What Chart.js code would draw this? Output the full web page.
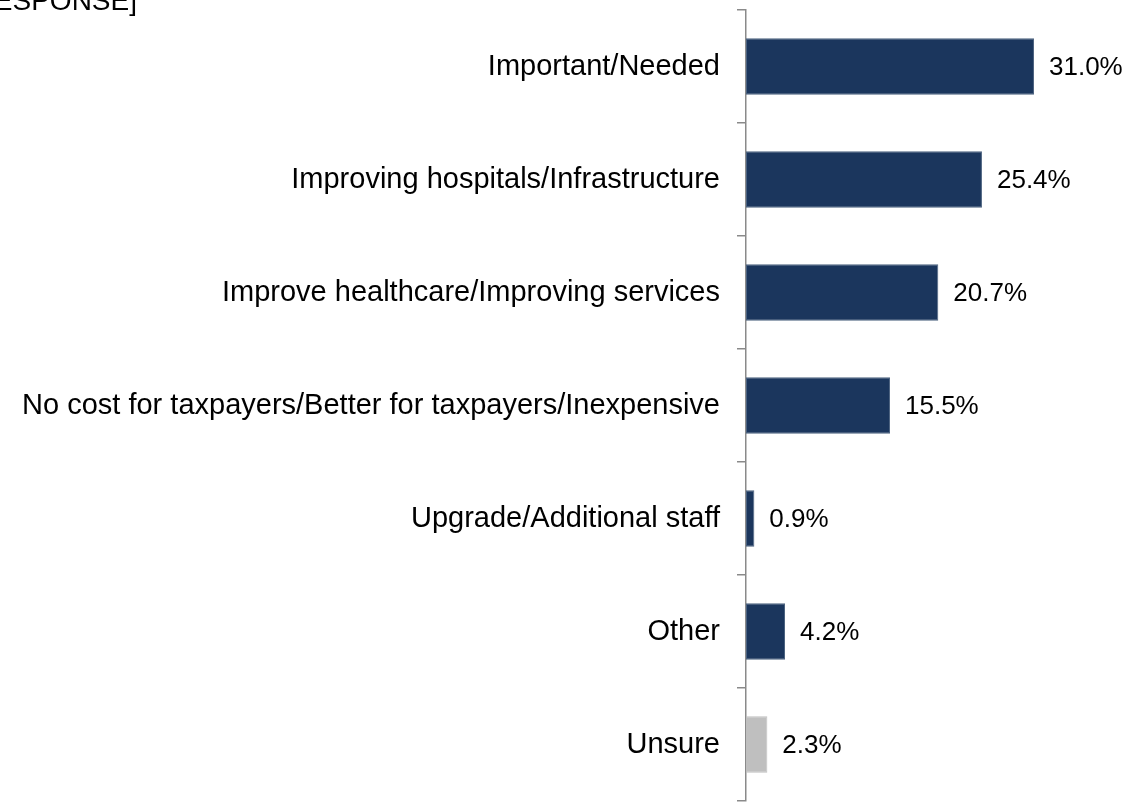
<!DOCTYPE html>
<html>
<head>
<meta charset="utf-8">
<script src="https://cdn.jsdelivr.net/npm/chart.js@4/dist/chart.umd.min.js"></script>
<style>
  html, body { margin: 0; padding: 0; background: #fff; overflow: hidden; }
  #wrap { position: relative; width: 1128px; height: 802px; }
</style>
</head>
<body>
<div id="wrap"><canvas id="reasonsChart" width="1128" height="802"></canvas></div>
<script>
const headerText = "RESPONSE]";
const categories = [
  "Important/Needed",
  "Improving hospitals/Infrastructure",
  "Improve healthcare/Improving services",
  "No cost for taxpayers/Better for taxpayers/Inexpensive",
  "Upgrade/Additional staff",
  "Other",
  "Unsure"
];
const percents = [31.0, 25.4, 20.7, 15.5, 0.9, 4.2, 2.3];
const barColors = ["#1b365d", "#1b365d", "#1b365d", "#1b365d", "#1b365d", "#1b365d", "#bfbfbf"];

const FONT = "'Liberation Sans', Arial, sans-serif";

// value labels at the end of each bar, plus the clipped header at top-left
const valueLabels = {
  id: "valueLabels",
  afterDatasetsDraw(chart) {
    const ctx = chart.ctx;
    const meta = chart.getDatasetMeta(0);
    ctx.save();
    ctx.fillStyle = "#000";
    ctx.font = "26px " + FONT;
    ctx.textAlign = "left";
    ctx.textBaseline = "middle";
    meta.data.forEach((bar, i) => {
      ctx.fillText(percents[i].toFixed(1) + "%", bar.x + 15, bar.y + 1);
    });
    ctx.font = "28px " + FONT;
    ctx.textAlign = "right";
    ctx.textBaseline = "alphabetic";
    ctx.fillText(headerText, 137, 10);
    ctx.restore();
  }
};

const ctx = document.getElementById("reasonsChart").getContext("2d");
new Chart(ctx, {
  type: "bar",
  data: {
    labels: categories,
    datasets: [
      {
        data: percents,
        backgroundColor: barColors,
        borderColor: barColors.map((c) => (c === "#bfbfbf" ? "#bfbfbf" : "#4d6380")),
        borderWidth: 1,
        borderSkipped: false,
        barPercentage: 0.5,
        categoryPercentage: 1.0
      }
    ]
  },
  options: {
    indexAxis: "y",
    responsive: false,
    animation: false,
    devicePixelRatio: 1,
    layout: { padding: { top: 10, bottom: 1, left: 0, right: 10.4 } },
    plugins: {
      legend: { display: false },
      tooltip: { enabled: false }
    },
    scales: {
      x: {
        display: false,
        min: 0,
        max: 40
      },
      y: {
        afterFit(scale) {
          scale.width = 746;
          scale.paddingTop = 0;
          scale.paddingBottom = 0;
        },
        border: { display: true, color: "#8a8a8a", width: 1.5 },
        grid: {
          offset: true,
          drawOnChartArea: false,
          drawTicks: true,
          tickLength: 9,
          color: "#8a8a8a",
          lineWidth: 1.5
        },
        ticks: {
          color: "#000",
          padding: 17,
          autoSkip: false,
          font: { family: FONT, size: 29 }
        }
      }
    }
  },
  plugins: [valueLabels]
});
</script>
</body>
</html>
